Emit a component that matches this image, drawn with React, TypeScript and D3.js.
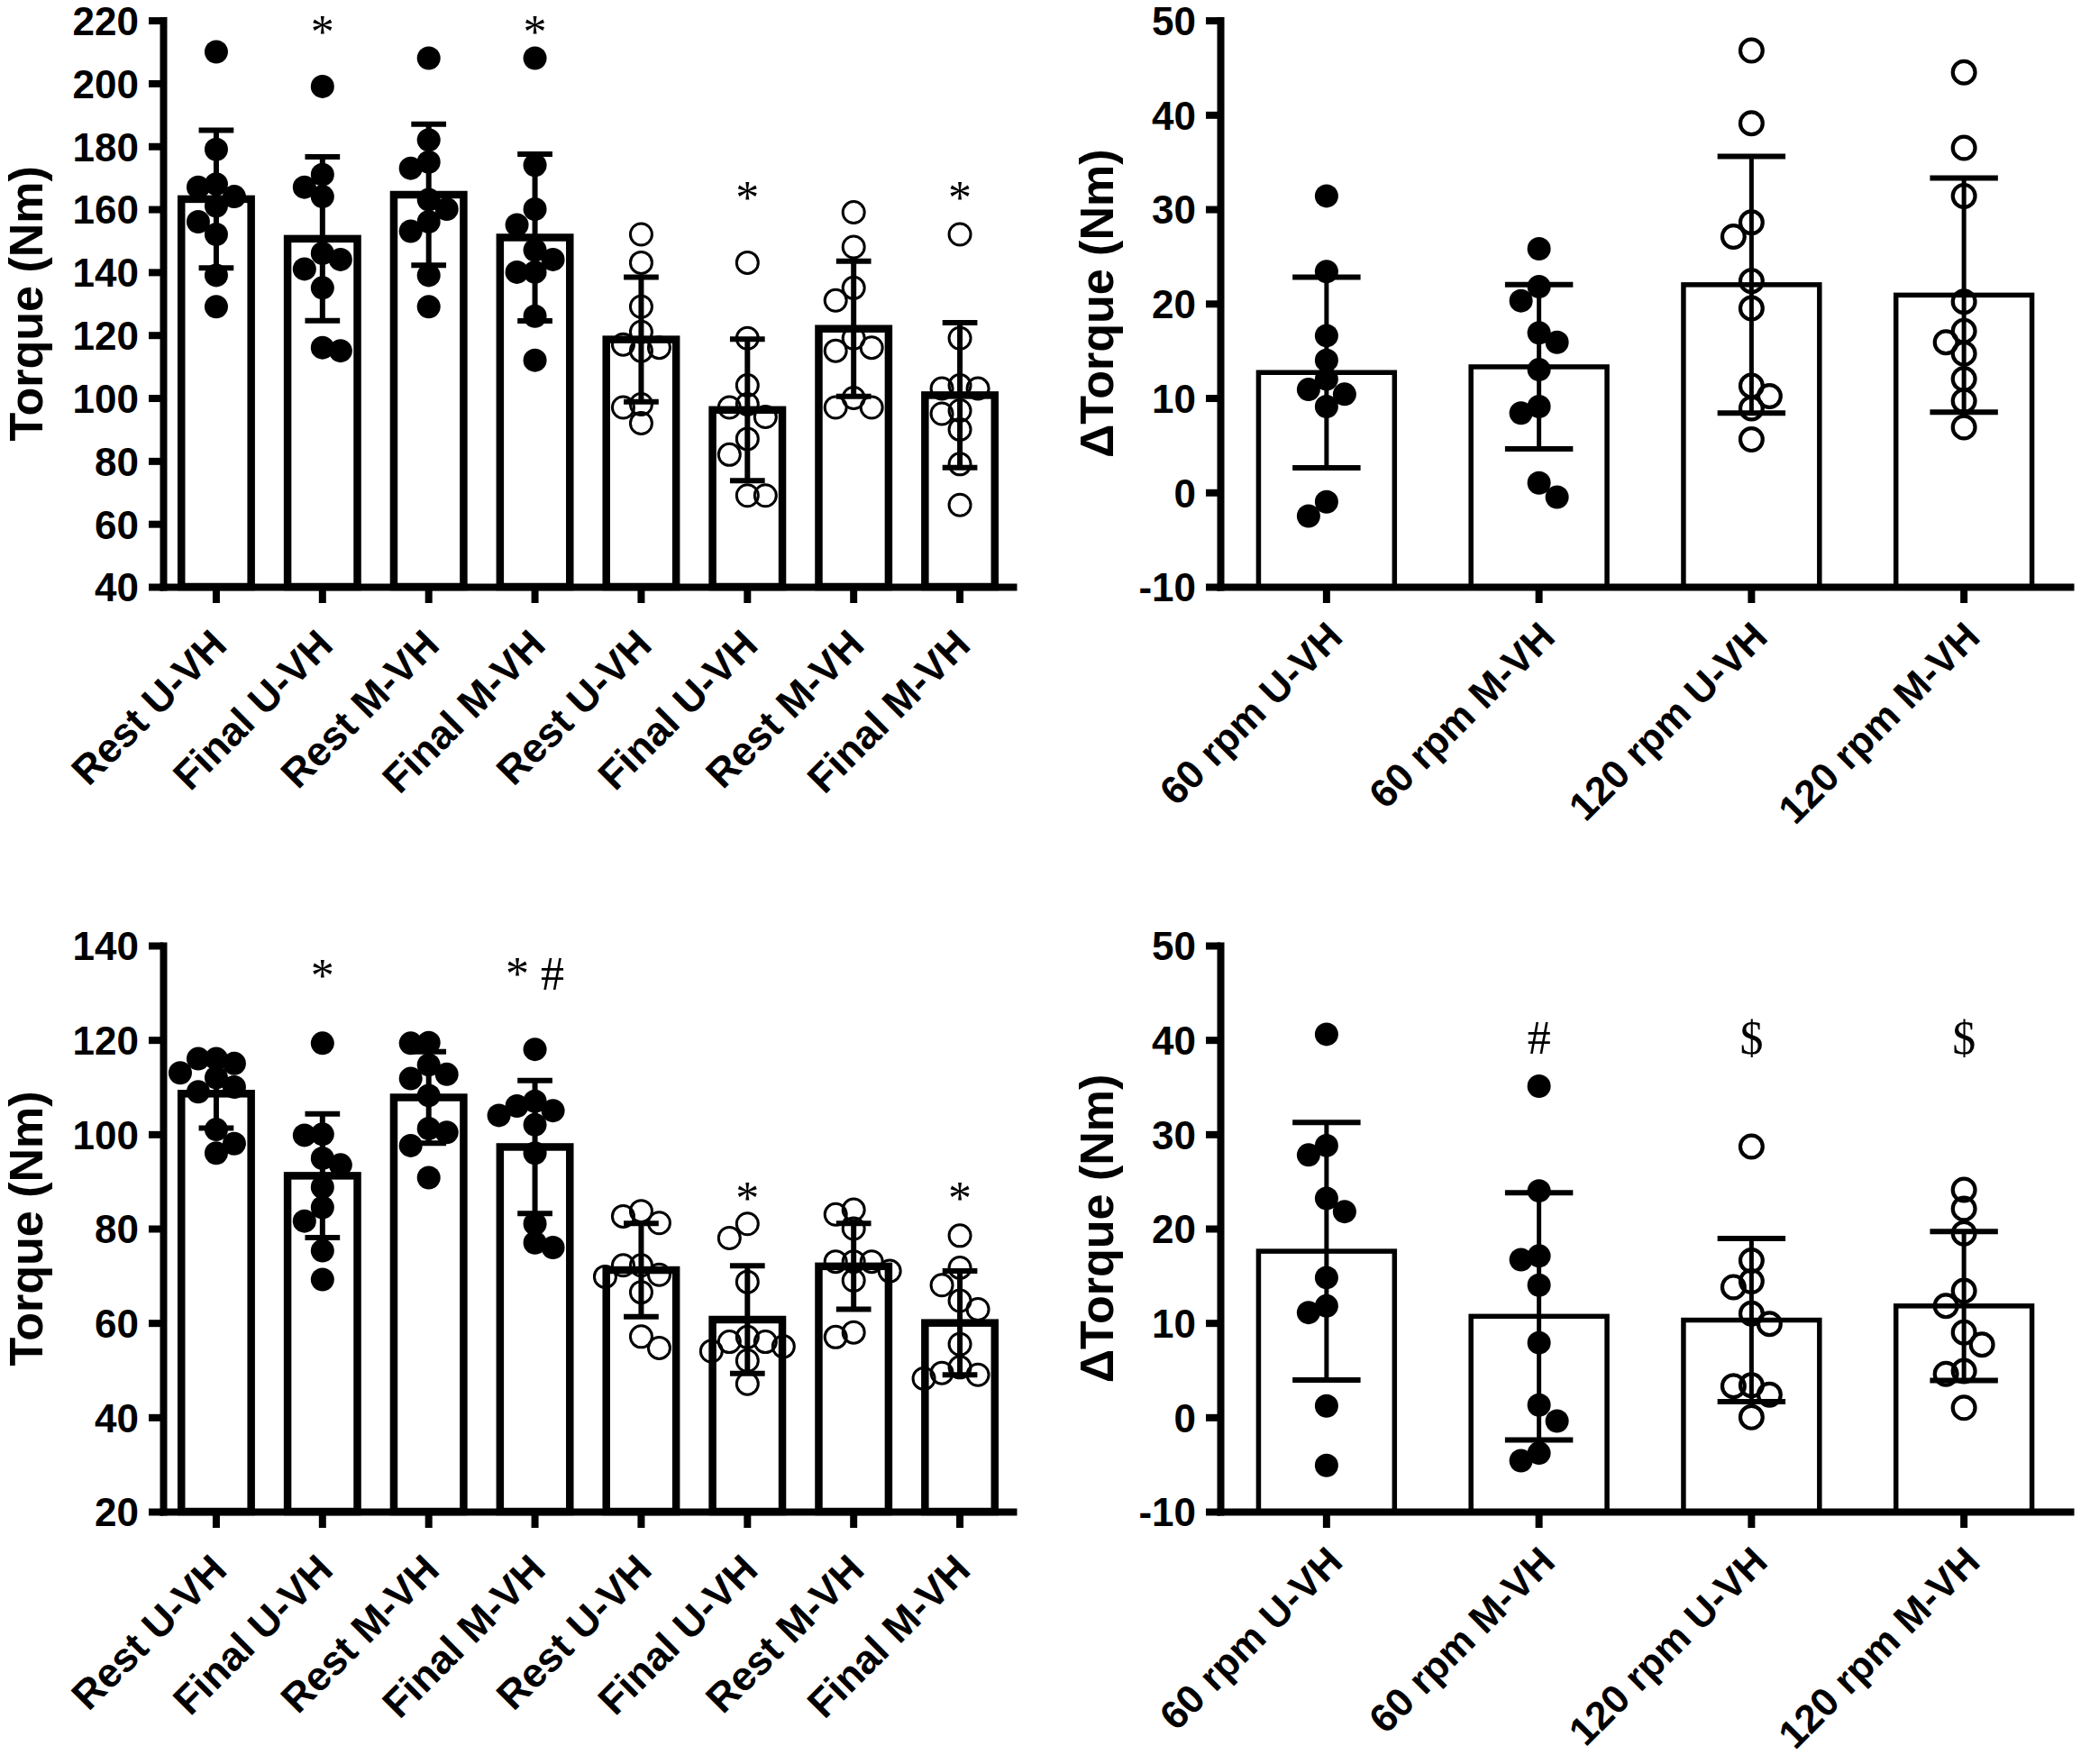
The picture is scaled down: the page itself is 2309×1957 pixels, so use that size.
import * as d3 from 'd3';
import React, { useEffect, useRef } from 'react';

// categories
const torqueGroups = ['Rest U-VH', 'Final U-VH', 'Rest M-VH', 'Final M-VH', 'Rest U-VH', 'Final U-VH', 'Rest M-VH', 'Final M-VH'];
const torqueOpen = [false, false, false, false, true, true, true, true];
const deltaGroups = ['60 rpm U-VH', '60 rpm M-VH', '120 rpm U-VH', '120 rpm M-VH'];
const deltaOpen = [false, false, true, true];

// top left: torque
const topTorqueTicks = [40, 60, 80, 100, 120, 140, 160, 180, 200, 220];
const topTorqueMeans = [163.2, 150.6, 164.6, 151.0, 118.6, 96.2, 122.0, 100.9];
const topTorqueSD = [21.9, 26.0, 22.4, 26.5, 19.8, 22.5, 21.5, 23.0];
const topTorquePoints = [
	[210, 179, 168, 167, 164, 161, 156, 152, 139, 129],
	[199, 171, 167, 164, 146, 144, 141, 135, 115, 116],
	[208, 182, 175, 173, 163, 160, 156, 153, 139, 129],
	[208, 174, 160, 155, 147, 144, 140, 140, 126, 112],
	[152, 143, 129, 121, 117, 116, 115, 98, 97, 92],
	[143, 119, 104, 98, 97, 94, 87, 82, 69, 69],
	[159, 148, 135, 131, 119, 116, 115, 100, 97, 97],
	[152, 119, 104, 103, 103, 96, 95, 90, 79, 66],
];
const topTorqueMarks = ['', '*', '', '*', '', '*', '', '*'];
const topTorqueMarkLevels = [0, 211.3, 0, 211.3, 0, 158.6, 0, 158.6];

// top right: delta torque
const topDeltaTicks = [-10, 0, 10, 20, 30, 40, 50];
const topDeltaMeans = [12.7, 13.3, 22.0, 20.9];
const topDeltaSD = [10.1, 8.7, 13.6, 12.4];
const topDeltaPoints = [
	[31.4, 23.4, 16.6, 14.0, 12.0, 10.9, 10.4, 9.1, -1.0, -2.5],
	[25.8, 21.8, 20.3, 16.9, 15.9, 13.0, 9.1, 8.4, 1.0, -0.5],
	[46.8, 39.1, 28.6, 27.1, 22.4, 19.5, 11.3, 10.2, 8.9, 5.6],
	[44.5, 36.5, 31.4, 20.2, 17.1, 15.9, 14.7, 12.0, 9.7, 6.9],
];
const topDeltaMarks = ['', '', '', ''];
const topDeltaMarkLevels = [0, 0, 0, 0];

// bottom left: torque
const bottomTorqueTicks = [20, 40, 60, 80, 100, 120, 140];
const bottomTorqueMeans = [108.6, 91.2, 107.8, 97.3, 71.2, 60.7, 72.0, 60.0];
const bottomTorqueSD = [7.3, 13.1, 9.7, 14.1, 9.9, 11.4, 9.1, 11.0];
const bottomTorquePoints = [
	[116, 116, 115, 113, 112, 110, 109, 101, 98, 96],
	[119.3, 100, 99.8, 94.9, 93.5, 88.8, 84.5, 81.6, 75.3, 69.2],
	[119.4, 119.3, 114.7, 112.7, 111.8, 108.2, 101.2, 100.4, 97.6, 90.8],
	[118, 107, 106, 105, 104, 102, 96, 81, 77, 76],
	[83.7, 82.6, 81.2, 72.2, 72.2, 70.2, 69.8, 66.5, 57.1, 54.7],
	[81, 78, 68.7, 57, 56, 56, 55, 54, 52, 47.1],
	[84, 83, 80, 73, 73, 73, 71, 69, 58, 57],
	[78.5, 71.7, 68, 64.7, 62.9, 55.5, 50.6, 49.4, 49, 48.2],
];
const bottomTorqueMarks = ['', '*', '', '* #', '', '*', '', '*'];
const bottomTorqueMarkLevels = [0, 130.3, 0, 130.6, 0, 83, 0, 83];

// bottom right: delta torque
const bottomDeltaTicks = [-10, 0, 10, 20, 30, 40, 50];
const bottomDeltaMeans = [17.6, 10.7, 10.3, 11.8];
const bottomDeltaSD = [13.65, 13.1, 8.65, 7.9];
const bottomDeltaPoints = [
	[40.6, 28.8, 27.8, 23.2, 21.8, 14.8, 11.8, 11.1, 1.2, -5.1],
	[35.1, 24.0, 17.1, 16.7, 14.0, 7.9, 1.3, -0.4, -3.8, -4.6],
	[28.7, 16.6, 14.4, 13.8, 11.0, 9.9, 3.4, 3.3, 2.4, 0.0],
	[24.1, 22.1, 19.5, 13.4, 11.8, 9.0, 7.7, 4.9, 4.6, 1.0],
];
const bottomDeltaMarks = ['', '#', '$', '$'];
const bottomDeltaMarkLevels = [0, 38.5, 38.5, 38.5];

const SANS = '"Liberation Sans", Arial, sans-serif';
const SERIF = '"Liberation Serif", "Times New Roman", serif';

// spread points of one group sideways so they do not sit on top of each other
const swarm = (pys: number[], step: number, minDist: number): number[] => {
	const order = pys.map((_, i) => i).sort((a, b) => pys[a] - pys[b]);
	const placed: { x: number; y: number }[] = [];
	const offsets = new Array(pys.length).fill(0);
	const slots = [0, -1, 1, -2, 2, -3, 3, -4, 4];
	for (const i of order) {
		const free = slots.filter(s => placed.every(p => Math.hypot(p.x - s * step, p.y - pys[i]) >= minDist));
		let slot = free.length ? free[0] : 0;
		if (free.length > 1 && Math.abs(free[1]) === Math.abs(free[0]) && free[0] !== 0) {
			const left = placed.filter(p => p.x < 0).length;
			const right = placed.filter(p => p.x > 0).length;
			slot = left > right ? Math.abs(free[0]) : -Math.abs(free[0]);
		}
		offsets[i] = slot * step;
		placed.push({ x: slot * step, y: pys[i] });
	}
	return offsets;
};

interface PanelProps {
	x0: number;
	x1: number;
	yTop: number;
	yBottom: number;
	ticks: number[];
	groups: string[];
	open: boolean[];
	means: number[];
	sd: number[];
	points: number[][];
	marks: string[];
	markLevels: number[];
	title: string;
	titleX: number;
	barPadding: number;
	barStroke: number;
	errStroke: number;
	openRadius: number;
	openStroke: number;
	labelSize: number;
	labelShift: [number, number];
}

const Panel = (props: PanelProps): React.JSX.Element => {
	const ref = useRef<SVGGElement | null>(null);

	useEffect(() => {
		if (ref.current === null) return;
		const { x0, x1, yTop, yBottom, ticks, groups, open, means, sd, points, marks, markLevels,
			title, titleX, barPadding, barStroke, errStroke, openRadius, openStroke, labelSize, labelShift } = props;
		const g = d3.select(ref.current);
		g.selectAll('*').remove();

		const yScale = d3.scaleLinear()
			.domain([ticks[0], ticks[ticks.length - 1]])
			.range([yBottom, yTop]);

		const xScale = d3.scaleBand()
			.domain(groups.map((_, i) => i.toString()))
			.range([x0, x1])
			.paddingInner(barPadding)
			.paddingOuter(barPadding / 2);

		const bw = xScale.bandwidth();
		const cx = (i: number) => (xScale(i.toString()) ?? 0) + bw / 2;

		// bars
		g.selectAll('rect.bar')
			.data(means)
			.enter()
			.append('rect')
			.attr('class', 'bar')
			.attr('x', (_, i) => xScale(i.toString()) ?? 0)
			.attr('y', d => yScale(d))
			.attr('width', bw)
			.attr('height', d => yBottom - yScale(d))
			.attr('fill', '#fff')
			.attr('stroke', '#000')
			.attr('stroke-width', barStroke);

		// error bars (mean ± SD)
		const errors = g.selectAll('g.err')
			.data(means)
			.enter()
			.append('g')
			.attr('class', 'err')
			.attr('stroke', '#000')
			.attr('stroke-width', errStroke);
		errors.append('line')
			.attr('x1', (_, i) => cx(i))
			.attr('x2', (_, i) => cx(i))
			.attr('y1', (d, i) => yScale(d + sd[i]))
			.attr('y2', (d, i) => yScale(d - sd[i]));
		[1, -1].forEach(sign => {
			errors.append('line')
				.attr('stroke-width', 6)
				.attr('x1', (_, i) => cx(i) - bw / 4)
				.attr('x2', (_, i) => cx(i) + bw / 4)
				.attr('y1', (d, i) => yScale(d + sign * sd[i]))
				.attr('y2', (d, i) => yScale(d + sign * sd[i]));
		});

		// individual points
		points.forEach((vals, gi) => {
			const pys = vals.map(v => yScale(v));
			const offs = swarm(pys, 20, 20);
			const isOpen = open[gi];
			g.append('g')
				.selectAll('circle')
				.data(vals)
				.enter()
				.append('circle')
				.attr('cx', (_, j) => cx(gi) + offs[j])
				.attr('cy', d => yScale(d))
				.attr('r', isOpen ? openRadius - openStroke / 2 : 13)
				.attr('fill', isOpen ? 'none' : '#000')
				.attr('stroke', isOpen ? '#000' : 'none')
				.attr('stroke-width', isOpen ? openStroke : 0);
		});

		// y axis
		const yAxis = g.append('g')
			.attr('transform', `translate(${x0}, 0)`)
			.call(d3.axisLeft(yScale).tickValues(ticks).tickSize(16).tickSizeOuter(0).tickPadding(11).tickFormat(d => `${d}`));

		// x axis
		const xAxis = g.append('g')
			.attr('transform', `translate(0, ${yBottom})`)
			.call(d3.axisBottom(xScale).tickSize(18).tickSizeOuter(0).tickFormat((_, i) => groups[i]));

		[yAxis, xAxis].forEach(ax => {
			ax.select('.domain').attr('stroke-width', 8).attr('stroke-linecap', 'square');
			ax.selectAll('.tick line').attr('stroke-width', 8);
			ax.selectAll('text')
				.attr('font-family', SANS)
				.attr('font-weight', 'bold')
				.attr('font-size', 44)
				.attr('fill', '#000');
		});
		yAxis.selectAll('text').attr('dy', '0.36em');
		xAxis.selectAll('text')
			.attr('font-size', labelSize)
			.attr('text-anchor', 'end')
			.attr('x', 0)
			.attr('y', 0)
			.attr('dy', 0)
			.attr('transform', `translate(${labelShift[0]}, ${labelShift[1]}) rotate(-45)`);

		// significance marks
		g.selectAll('text.mark')
			.data(marks)
			.enter()
			.append('text')
			.attr('class', 'mark')
			.attr('x', (_, i) => cx(i))
			.attr('y', (_, i) => yScale(markLevels[i]))
			.attr('text-anchor', 'middle')
			.attr('font-family', SERIF)
			.attr('font-size', 52)
			.text(d => d);

		// y title
		g.append('text')
			.attr('transform', `translate(${titleX}, ${(yTop + yBottom) / 2}) rotate(-90)`)
			.attr('text-anchor', 'middle')
			.attr('font-family', SANS)
			.attr('font-weight', 'bold')
			.attr('font-size', 52)
			.text(title);
	}, [props]);

	return <g ref={ref} />;
};

const App = (): React.JSX.Element => {
	const width = 2309;
	const height = 1957;
	const top = { yTop: 22.6, yBottom: 651 };
	const bottom = { yTop: 1049, yBottom: 1677 };
	const left = {
		x0: 181, x1: 1124, titleX: 47, barPadding: 0.343, barStroke: 8.5, errStroke: 6,
		openRadius: 13.5, openStroke: 3, labelSize: 45, labelShift: [14, 67] as [number, number],
	};
	const right = {
		x0: 1354, x1: 2297, titleX: 1235, barPadding: 0.36, barStroke: 5.5, errStroke: 5,
		openRadius: 14.5, openStroke: 4.2, labelSize: 44, labelShift: [20, 58] as [number, number],
	};

	return (
		<svg width={width} height={height} style={{ position: 'absolute', left: 0, top: 0, background: '#fff' }}>
			<rect width={width} height={height} fill="#fff" />
			<Panel {...top} {...left} ticks={topTorqueTicks} groups={torqueGroups} open={torqueOpen}
				means={topTorqueMeans} sd={topTorqueSD} points={topTorquePoints}
				marks={topTorqueMarks} markLevels={topTorqueMarkLevels} title="Torque (Nm)" />
			<Panel {...top} {...right} ticks={topDeltaTicks} groups={deltaGroups} open={deltaOpen}
				means={topDeltaMeans} sd={topDeltaSD} points={topDeltaPoints}
				marks={topDeltaMarks} markLevels={topDeltaMarkLevels} title="ΔTorque (Nm)" />
			<Panel {...bottom} {...left} ticks={bottomTorqueTicks} groups={torqueGroups} open={torqueOpen}
				means={bottomTorqueMeans} sd={bottomTorqueSD} points={bottomTorquePoints}
				marks={bottomTorqueMarks} markLevels={bottomTorqueMarkLevels} title="Torque (Nm)" />
			<Panel {...bottom} {...right} ticks={bottomDeltaTicks} groups={deltaGroups} open={deltaOpen}
				means={bottomDeltaMeans} sd={bottomDeltaSD} points={bottomDeltaPoints}
				marks={bottomDeltaMarks} markLevels={bottomDeltaMarkLevels} title="ΔTorque (Nm)" />
		</svg>
	);
};

export default App;
